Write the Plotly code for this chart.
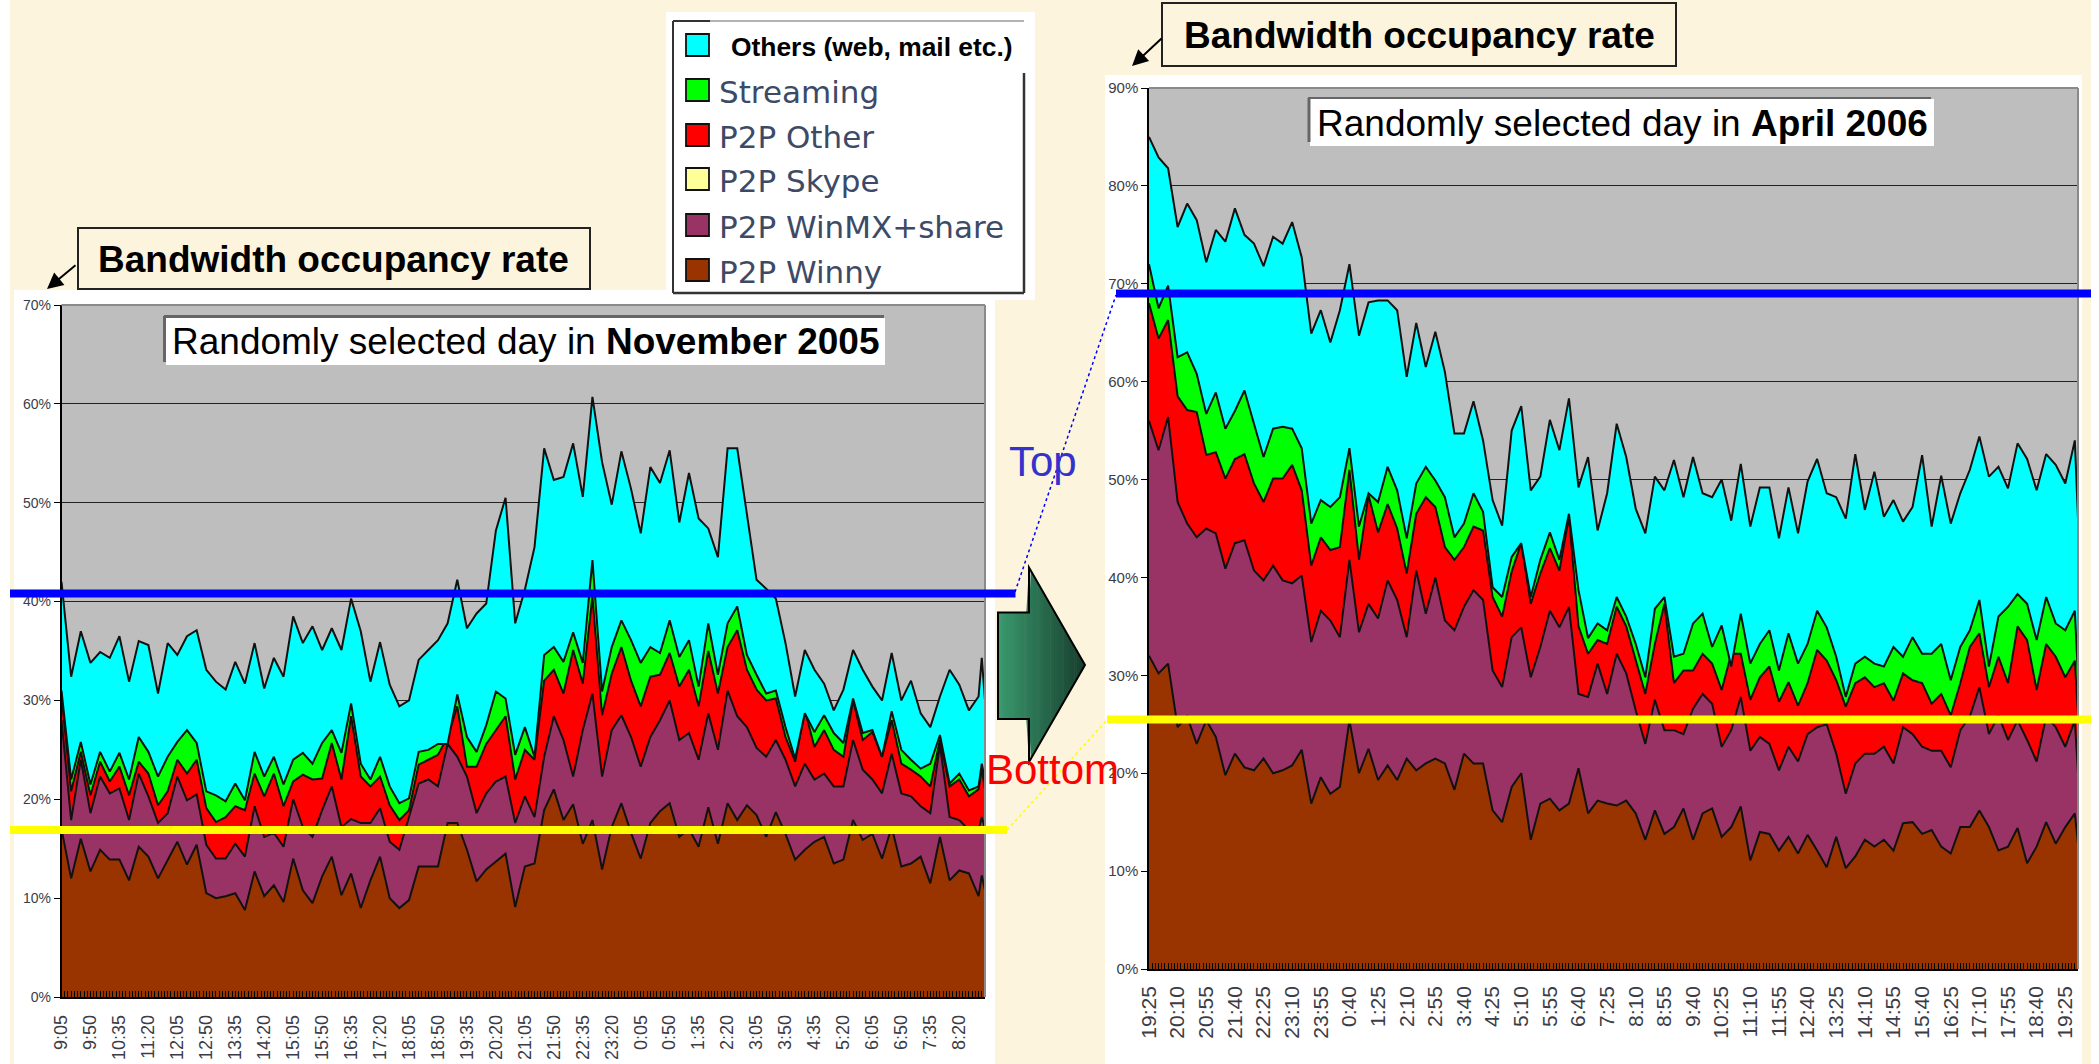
import plotly.graph_objects as go

W, H = 2099, 1064

# ---------- data: cumulative stack tops, % of bandwidth ----------
nov_ticks = ["9:05","9:50","10:35","11:20","12:05","12:50","13:35","14:20","15:05","15:50","16:35","17:20","18:05","18:50","19:35","20:20","21:05","21:50","22:35","23:20","0:05","0:50","1:35","2:20","3:05","3:50","4:35","5:20","6:05","6:50","7:35","8:20"]
apr_ticks = ["19:25","20:10","20:55","21:40","22:25","23:10","23:55","0:40","1:25","2:10","2:55","3:40","4:25","5:10","5:55","6:40","7:25","8:10","8:55","9:40","10:25","11:10","11:55","12:40","13:25","14:10","14:55","15:40","16:25","17:10","17:55","18:40","19:25"]
nov_sample = list(range(0, 288, 3)) + [286, 287]
apr_sample = list(range(0, 292, 3)) + [292]

nov_winny = [17,12,16,12.7,14.9,13.9,13.9,11.8,15.2,14.2,12,13.9,15.7,13.4,15.4,10.5,10,10.2,10.5,8.8,12.7,10.2,11.3,9.6,14,10.8,9.5,12.2,14.2,10.3,12.5,9,
 11.8,14.2,10,9,9.8,13.2,13.2,13.2,17.6,17.6,14.9,11.7,12.9,13.7,14.5,9.1,13.2,13.5,18.9,21,17.9,19.5,15.5,17.9,12.9,17.2,19.6,16.6,14,17.6,18.8,19.6,
 16.2,17,15.2,19.2,15.5,19.6,17.9,19.4,18.4,16.2,18.7,16.5,13.9,14.9,15.7,16.2,13.5,13.9,17.9,15.9,16.5,14,17.2,13.2,13.5,14.2,11.5,16.2,11.8,12.8,12.5,10.2,12.3,10.8]
nov_winmx = [28,17.9,24,18.6,22.3,20.6,21.1,17.9,22.6,20.3,17.6,18.6,22.3,19.9,20.5,15.4,14,14,15.5,14.2,19.3,16.2,16.6,15.2,20,17.2,16.2,18.9,21.3,17.2,18,17.6,
 17.6,19.1,15.7,14.9,18.2,21.6,22,21.3,25.6,24.3,22.3,18.6,20.6,21.8,22.3,17.6,20.3,18.2,24.3,28.4,26,22.3,27,30.7,22.3,27,28.5,26.3,23.3,26.3,28,30,
 26,26.7,24,28.7,25,31,28.4,27.3,25.2,24.3,26,24,21.3,23.6,22,22.6,21.3,21.3,26,23,22,20.6,24.6,20.6,20.3,19.3,18.6,25.5,18.2,17.9,16.9,16.9,18.2,17]
nov_p2p_other = [30.5,20.8,24.8,20.4,23.8,21.8,23.3,20.4,23.8,22.6,19.4,20.8,24,22.6,24,19.1,17.7,18.2,19.3,18.9,22.6,20.3,22.6,19.3,21.8,22.5,22,22.1,25.7,22,28.4,22.3,
 21.3,22.3,19.4,17.9,18.9,23.5,24,24.5,26.3,29.4,23.3,23.3,25.6,27,28.4,22,25,24,32,33.1,30.7,35.1,31.7,40.5,28.5,32.7,35.4,32,29.4,32.4,32.6,34.8,
 31.4,33.1,29.4,35,30.7,35.4,37.1,33.1,31.1,30,30.2,26.3,23.8,29,25.3,27,25,24.3,30,26,26.8,24.3,28,23.6,23,22.3,21.3,26,21.3,22,20.3,21,23,21]
nov_streaming = [31,22,25.8,21.5,24.8,22.8,24.7,22,26.3,24.8,22.3,24.3,25.8,27,25.7,20.8,20.4,19.8,21.6,19.9,24.8,22.3,24.3,21.5,24,24.7,23.6,25.7,27,24.7,29.7,23.6,
 22,24.3,21.3,19.6,20.1,24.8,25,25.6,25.6,30.6,26.3,24.8,27.5,30.9,30.2,24.5,27.3,24.3,34.6,35.4,33.9,36.9,33.8,44.2,30.9,35.4,38.1,36.1,33.8,35.4,34.8,38.1,
 34.4,36.1,31.4,37.8,32.6,37.8,39.5,34.6,32.6,30.7,31,27.3,24.1,28.7,26.8,28.5,26.7,25.7,30.2,26.7,27,24.3,28.9,25,24,23.1,23.6,26.5,21.6,22.6,20.9,21.3,23.6,22]
nov_others = [42,32.4,37,33.8,34.9,34.3,36.5,31.9,36,35.6,30.7,35.8,34.6,36.5,37.1,33.1,31.9,31.1,33.9,31.7,35.8,31.2,34.3,32.4,38.5,35.8,37.5,35.1,37.3,35.1,40.3,37,
 31.9,35.9,31.6,29.4,30,34.1,35.1,36.1,37.8,42.2,37.3,38.8,39.8,47.2,50.5,37.8,41.2,45.5,55.5,52.3,52.6,56,50.6,60.7,54.1,49.8,55.2,51.4,46.9,53.6,52,55.3,
 48,53,48.4,47.4,44.5,55.5,55.5,49,42.2,41.3,40.3,35.8,30.4,35.1,33.1,31.7,29,31.1,35.1,33.1,31.4,30,34.8,30,32,28.7,27.3,30.4,33.1,31.6,29,30.4,34.3,30]

apr_winny = [32,30.2,31.2,24.7,25.8,23,25.4,23.7,19.8,22,20.6,20.3,21.5,20,20.3,20.8,22.4,16.9,19.6,17.9,18.6,25.4,20,22.5,19.3,20.8,19.3,21.5,20.3,21,21.5,21,18.3,
 22,21,21,16.2,15,18.6,20,13.2,16.9,17.4,16.2,16.9,20.5,15.9,17.2,16.9,16.7,17.2,15.9,13.2,16.2,13.8,14.5,16.4,13.2,15.9,16.4,13.5,14.5,16.6,11.1,14,
 13.8,12.1,13.5,11.8,13.7,12.1,10.4,13.5,10.3,11.5,13.2,12.5,13.2,12.1,14.9,15,13.8,14.2,12.5,11.8,14.5,14.5,16.2,14.5,12.1,12.5,14.4,10.8,12.5,15,12.8,14.5,15.9,12.8]
apr_winmx = [56,53,56.4,47.7,45.5,44.1,45,44.5,40.9,43.5,43.8,40.7,39.7,41.2,39.7,39.4,40.2,33.4,36.6,35.6,33.9,41.8,34.4,37.3,35.8,39.7,37.7,33.9,40.7,36.3,40,35.6,34.6,
 37,38.7,37.7,30.5,28.8,33.9,34.9,29.8,32.9,36.6,34.9,37,28.1,27.8,31.2,28.1,32.2,30.2,26.4,23,27.5,24.4,24.4,24,26.6,28.1,27.1,22.7,24.4,27.8,22.3,23.7,
 23,20.3,22.7,21.2,24,24.7,25,22,17.9,21,22,22,22.7,21,24.7,24,22.7,22.3,22.3,20.6,24.4,25.8,28.8,24,25.9,23.4,25.4,23.4,21.2,25.8,24.7,22.7,25.4,20]
apr_p2p_other = [68,64.4,66.3,58.5,57.1,56.9,52.5,52.8,50.1,52.1,52.6,49.6,47.7,50.1,50.1,51.5,48.9,41.2,44.1,42.8,43.1,51,41.8,48.4,44.6,47.5,45,40.4,46.5,48.2,47.2,43.1,41.8,
 43.1,45.2,44.8,38,36,40.6,43.5,37.3,40.4,43,40.7,46.2,35,32.2,33.6,33.2,37,35,31.5,28.1,33.2,37.3,29.2,30.5,30.5,32.2,31.2,28.5,32.2,32.2,27.5,29.8,
 30.9,27.3,29.3,26.9,29.2,32.6,31.5,29.5,26.8,29.2,29.8,28.8,29.2,27.4,30.2,29.5,29.2,27.1,28.1,25.9,29.2,32.9,34.3,28.8,31.9,29.2,35,33.6,28.5,33.2,31.9,29.8,31.5,26]
apr_streaming = [72,67.5,69.8,62.5,63,60.8,56.7,58.9,55.2,57,59.1,55.7,52.3,55.2,55.4,55.2,53.2,45.5,47.9,47.2,48.2,53.2,45.2,48.6,47.7,51.3,48.9,44,49.6,51.3,49.9,48.2,44.1,
 45.5,48.6,46.7,39,38,42.1,43.5,38,41.8,44.6,41.8,46.5,38.7,33.8,35.3,34.6,38,36,33.2,29.8,36.8,38,31.9,32.2,35.3,36.3,32.9,35.1,30.9,36.3,31.2,33.2,
 34.6,30.5,34.3,31.2,33.2,36.6,34.9,31.9,27.8,31.2,31.9,31.2,30.9,32.9,31.9,33.9,32.2,32.2,33.2,29.5,32.9,34.6,37.7,30.9,36,37,38.3,37.3,33.6,38,35.3,34.6,36.6,30]
apr_others = [85,82.9,81.8,75.8,78.2,76.5,72.2,75.5,74.3,77.7,75,74.1,71.8,74.8,74.1,76.3,72.7,64.9,67.3,64,67.3,72,64.7,68.1,68.3,68.3,67.3,60.5,66,61.5,65.1,61,54.7,
 54.7,58,54,47.9,45.3,55,57.5,48.9,50.3,56.1,53,58.3,49.2,52.3,44.8,48.6,55.7,52.3,47,44.5,50.3,48.9,52,48.2,52.3,48.6,48.2,50,45.8,51.6,45.2,49.2,
 49.2,44,49.2,44.5,49.8,52.1,48.6,48.2,46,52.6,46.9,50.8,46.2,47.9,45.7,47.2,52.5,45.2,50.4,45.5,48.6,51,54.4,50.3,51.3,49.1,53.7,52.1,48.9,52.6,51.5,49.6,54,46]

legend_names = ["Others (web, mail etc.)", "Streaming", "P2P Other", "P2P Skype", "P2P WinMX+share", "P2P Winny"]
legend_colors = ["#00FFFF", "#00FF00", "#FF0000", "#FFFF99", "#993366", "#993300"]
stack_names = ["P2P Winny", "P2P WinMX+share", "P2P Other", "Streaming", "Others (web, mail etc.)"]
stack_colors = ["#993300", "#993366", "#FF0000", "#00FF00", "#00FFFF"]
nov_stack = [nov_winny, nov_winmx, nov_p2p_other, nov_streaming, nov_others]
apr_stack = [apr_winny, apr_winmx, apr_p2p_other, apr_streaming, apr_others]
for s in nov_stack:
    assert len(s) == len(nov_sample), len(s)
for s in apr_stack:
    assert len(s) == len(apr_sample), len(s)

# ---------- helpers ----------
px = lambda x: x / W
py = lambda y: 1 - y / H
def rect(x0, y0, x1, y1, fill=None, line=None, lw=0, layer="above"):
    return dict(type="rect", xref="paper", yref="paper", x0=px(x0), x1=px(x1), y0=py(y0), y1=py(y1),
                fillcolor=fill or "rgba(0,0,0,0)", line=dict(color=line or "rgba(0,0,0,0)", width=lw), layer=layer)
def seg(x0, y0, x1, y1, color, lw, dash="solid", layer="above"):
    return dict(type="line", xref="paper", yref="paper", x0=px(x0), x1=px(x1), y0=py(y0), y1=py(y1),
                line=dict(color=color, width=lw, dash=dash), layer=layer)
def poly(pts, fill=None, line=None, lw=0):
    d = "M " + " L ".join(f"{px(x):.6f} {py(y):.6f}" for x, y in pts) + " Z"
    return dict(type="path", xref="paper", yref="paper", path=d, fillcolor=fill or "rgba(0,0,0,0)",
                line=dict(color=line or "rgba(0,0,0,0)", width=lw), layer="above")

fig = go.Figure()
for panel, (xs, stack) in enumerate([(nov_sample, nov_stack), (apr_sample, apr_stack)]):
    ax = "x" if panel == 0 else "x2"
    ay = "y" if panel == 0 else "y2"
    for i, (name, col, vals) in enumerate(zip(stack_names, stack_colors, stack)):
        fig.add_trace(go.Scatter(x=xs, y=vals, name=name, mode="lines", xaxis=ax, yaxis=ay,
                                 line=dict(color="#111111", width=2, shape="linear"),
                                 fill="tozeroy" if i == 0 else "tonexty", fillcolor=col,
                                 showlegend=False))

L = dict(x0=61.5, x1=985, y0=305, y1=997)
R = dict(x0=1149, x1=2078, y0=88, y1=969)
CREAM = "#FCF4DD"
shapes = [
    rect(10, 0, 2091, 1064, CREAM, layer="below"),
    rect(14, 290, 995, 1064, "white", layer="below"),
    rect(1105, 75, 2082, 1064, "white", layer="below"),
    rect(L["x0"], L["y0"], L["x1"], L["y1"], "#BEBEBE", layer="below"),
    rect(R["x0"], R["y0"], R["x1"], R["y1"], "#BEBEBE", layer="below"),
    seg(L["x0"], L["y0"], L["x1"], L["y0"], "#8a8a8a", 2),
    seg(L["x1"], L["y0"], L["x1"], L["y1"], "#8a8a8a", 2),
    seg(R["x0"], R["y0"], R["x1"], R["y0"], "#8a8a8a", 2),
    seg(R["x1"], R["y0"], R["x1"], R["y1"], "#8a8a8a", 2),
]
# title plates inside the charts
shapes += [
    rect(166, 318, 885, 365, "white"),
    seg(164, 316.5, 884, 316.5, "#666666", 3), seg(164.5, 316, 164.5, 362, "#666666", 3),
    rect(1310, 99, 1934, 146, "white"),
    seg(1308, 98, 1931, 98, "#666666", 2), seg(1309, 98, 1309, 142, "#666666", 3),
]
# legend panel
shapes += [
    rect(666, 12, 1035, 300, "white"),
    seg(673, 21, 1024, 21, "#999999", 1.5),
    seg(673, 21, 710, 21, "#333333", 2),
    seg(673, 21, 673, 293, "#333333", 2),
    seg(673, 293, 1024, 293, "#333333", 2.5),
    seg(1024, 73, 1024, 293, "#333333", 2.5),
]
legend_y = [45, 90, 135, 179, 225, 270]
for col, y in zip(legend_colors, legend_y):
    shapes.append(rect(686, y - 11, 709, y + 11, col, "#111111", 1.8))
# callout boxes
shapes += [rect(78, 228, 590, 289, None, "#222222", 2), rect(1162, 3, 1676, 66, None, "#222222", 2)]
# level lines
shapes += [
    seg(1015, 592, 1116, 295, "#0000FF", 1.5, "dot"),
    seg(1007, 830, 1107, 720, "#FFFF00", 1.5, "dot"),
    seg(10, 593.5, 1015.5, 593.5, "#0000FF", 8),
    seg(10, 830, 1007, 830, "#FFFF00", 8),
    seg(1116, 293.5, 2091, 293.5, "#0000FF", 8),
    seg(1107, 719.5, 2091, 719.5, "#FFFF00", 8),
]
# gradient block arrow
def arrow_edges(x):
    if x < 1029:
        return 612.5, 719
    t = (x - 1029) / (1085 - 1029)
    return 567.5 + t * (665 - 567.5), 762 - t * (762 - 665)
n = 40
for i in range(n):
    a = 998 + (1085 - 998) * i / n
    b = 998 + (1085 - 998) * (i + 1) / n
    f = (i + 0.5) / n
    c = "rgb(%d,%d,%d)" % (58 + (24 - 58) * f, 154 + (62 - 154) * f, 110 + (46 - 110) * f)
    b2 = min(b + 0.6, 1085)
    t0, d0 = arrow_edges(a)
    t1, d1 = arrow_edges(b2 - 0.001)
    shapes.append(poly([(a, t0), (b2, t1), (b2, d1), (a, d0)], c))
shapes.append(poly([(998, 612.5), (1029, 612.5), (1029, 567.5), (1085, 665), (1029, 762), (1029, 719), (998, 719)], None, "#000000", 2))

def note(x, y, text, size, color="#000000", family="Liberation Sans", xanchor="center"):
    return dict(xref="paper", yref="paper", x=px(x), y=py(y), text=text, showarrow=False, xanchor=xanchor, yanchor="middle",
                font=dict(size=size, color=color, family=family))

annos = [
    note(526, 341, "Randomly selected day in <b>November 2005</b>", 37),
    note(1622, 124, "Randomly selected day in <b>April 2006</b>", 37),
    note(333, 259, "<b>Bandwidth occupancy rate</b>", 37),
    note(1419, 35, "<b>Bandwidth occupancy rate</b>", 37),
    note(1043, 461, "Top", 42, "#3333CC"),
    note(1052, 769, "Bottom", 42, "#FF0000"),
    note(729, 47, f"<b>{legend_names[0]}</b>", 26.4, xanchor="left"),
]
for name, y in zip(legend_names[1:], legend_y[1:]):
    annos.append(note(717, y + 2, name, 31, "#3d4a66", "DejaVu Sans", "left"))
for (tx, ty, fx, fy) in [(47, 289, 77, 264), (1132, 66, 1163, 37)]:
    annos.append(dict(xref="paper", yref="paper", x=px(tx), y=py(ty), ax=fx - tx, ay=fy - ty, axref="pixel", ayref="pixel",
                      text="", showarrow=True, arrowhead=2, arrowsize=1.6, arrowwidth=2, arrowcolor="#000000"))

def xaxis(dom, rng, labels, size, standoff):
    return dict(domain=[px(dom[0]), px(dom[1])], range=rng, tickmode="array", tickvals=[i * 9 for i in range(len(labels))],
                ticktext=labels, tickangle=-90, tickfont=dict(family="Liberation Sans", size=size, color="#3c3c46"),
                ticks="inside", ticklen=6, tickcolor="#000000", tickwidth=1, automargin=False,
                showgrid=False, zeroline=False, showline=True, linecolor="#000000", linewidth=1.5, ticklabelstandoff=standoff,
                minor=dict(ticks="inside", dtick=1, tick0=0, ticklen=6, tickwidth=1, tickcolor="#000000", showgrid=False))
def yaxis(dom, top, anchor, size):
    return dict(domain=[py(dom[1]), py(dom[0])], range=[0, top], dtick=10, tickmode="linear", tick0=0, ticksuffix="%", anchor=anchor,
                tickfont=dict(family="Liberation Sans", size=size, color="#3c3c46"), automargin=False,
                ticks="outside", ticklen=6, tickcolor="#000000", showgrid=True, gridcolor="#222222", gridwidth=1,
                zeroline=False, showline=True, linecolor="#000000", linewidth=1.5)

fig.update_layout(
    width=W, height=H, margin=dict(l=0, r=0, t=0, b=0, pad=0), autosize=False,
    paper_bgcolor="white", plot_bgcolor="rgba(0,0,0,0)", showlegend=False,
    xaxis=dict(xaxis((L["x0"], L["x1"]), [0, 287], nov_ticks, 18, 9), anchor="y"),
    yaxis=yaxis((L["y0"], L["y1"]), 70, "x", 14),
    xaxis2=dict(xaxis((R["x0"], R["x1"]), [0, 292], apr_ticks, 21, 7), anchor="y2"),
    yaxis2=yaxis((R["y0"], R["y1"]), 90, "x2", 15),
    shapes=shapes, annotations=annos,
)
fig.write_html("out.html", config=dict(displayModeBar=False),
               post_script="document.body.style.margin='0';document.documentElement.style.overflow='hidden';")
